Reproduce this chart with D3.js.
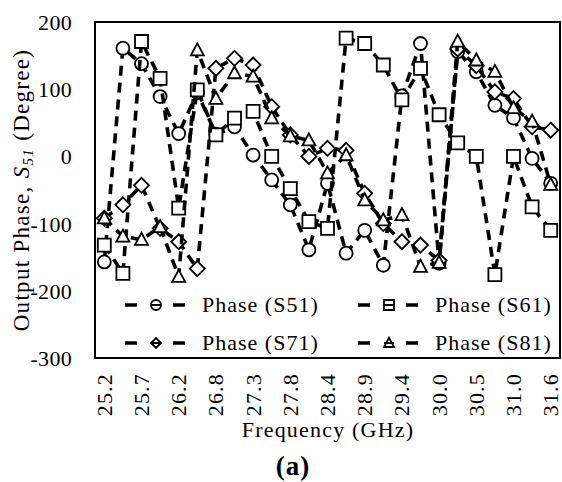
<!DOCTYPE html>
<html><head><meta charset="utf-8">
<script src="https://cdn.jsdelivr.net/npm/d3@7"></script>
<style>
html,body{margin:0;padding:0;background:#fff;}
svg text{font-family:"Liberation Serif","Times New Roman",serif;fill:#000;}
</style></head>
<body><svg id="c" width="562" height="482"></svg>
<script>
// ---- data ----
const categories = [25.2,25.47,25.73,26.0,26.27,26.53,26.8,27.07,27.33,27.6,27.87,28.13,28.4,28.67,28.93,29.2,29.44,29.73,30.0,30.27,30.53,30.8,31.07,31.33,31.6];
const tickLabels = ["25.2","25.7","26.2","26.8","27.3","27.8","28.4","28.9","29.4","30.0","30.5","31.0","31.6"];
const yTicks = [-300,-200,-100,0,100,200];
const s51 = [-157,161,138,89,34,95,33,44,2,-35,-72,-139,-40,-144,-110,-162,90,168,-159,156,126,76,57,-3,-40];
const s61 = [-132,-174,171,116,-77,99,32,57,67,0,-48,-97,-107,176,168,136,84,131,62,20,0,-176,0,-75,-110];
const s71 = [-92,-72,-43,-107,-127,-167,131,146,136,74,32,0,12,9,-55,-100,-127,-132,-155,160,135,96,86,44,39];
const s81 = [-92,-119,-124,-105,-179,158,86,124,119,57,30,24,-25,2,-65,-95,-87,-164,-158,171,143,126,72,52,-42];
const seriesNames = ["Phase (S51)","Phase (S61)","Phase (S71)","Phase (S81)"];
const seriesMarkers = ["circle","square","diamond","triangle"];
const seriesValues = [s51,s61,s71,s81];

// ---- layout ----
const FONT = '"Liberation Serif","Times New Roman",serif';
const L=95, R=560, T=22, B=358;
const svg = d3.select("#c");
const x = d3.scaleBand().domain(d3.range(categories.length)).range([L,R]).padding(0);
const cx = i => x(i) + x.bandwidth()/2;
const y = d3.scaleLinear().domain([-300,200]).range([B,T]);

// y axis
const yAxis = d3.axisLeft(y).tickValues(yTicks).tickSize(0).tickPadding(23).tickFormat(d => String(d));
const ga = svg.append("g").attr("transform",`translate(${L},0)`).call(yAxis);
ga.select(".domain").remove();
ga.attr("font-family",null);
ga.selectAll("text").style("font-family",FONT).style("font-size","22px").style("letter-spacing","0.3px").attr("dy","0.34em");

// x axis labels (every other category)
const xAxis = d3.axisBottom(x).tickValues(d3.range(0,categories.length,2)).tickSize(0)
  .tickFormat((d,i)=>tickLabels[i]);
const gx = svg.append("g").attr("transform",`translate(0,${B})`).call(xAxis);
gx.select(".domain").remove();
gx.selectAll("text").style("font-family",FONT).style("font-size","22px").style("letter-spacing","1.2px")
  .attr("transform","rotate(-90)").attr("text-anchor","end").attr("x",-15).attr("y",0).attr("dy","0.34em");

// axis titles
const yt = svg.append("text").attr("transform","translate(29,190) rotate(-90)").attr("text-anchor","middle")
  .style("font-size","23px").style("letter-spacing","1.3px");
yt.append("tspan").text("Output Phase, ");
yt.append("tspan").style("font-style","italic").text("S");
yt.append("tspan").style("font-style","italic").style("font-size","15px").attr("dy","4").text("51");
yt.append("tspan").attr("dy","-4").text(" (Degree)");
svg.append("text").attr("x",328).attr("y",437).attr("text-anchor","middle").style("font-size","22px")
  .style("letter-spacing","1.2px").text("Frequency (GHz)");
svg.append("text").attr("x",293).attr("y",475).attr("text-anchor","middle").style("font-size","27px")
  .style("font-weight","bold").style("letter-spacing","1px").text("(a)");

// marker shapes
function markerPath(type, s){
  const h=s/2;
  if(type==="circle") return d3.symbol(d3.symbolCircle, Math.PI*h*h)();
  if(type==="square") return `M${-h},${-h}H${h}V${h}H${-h}Z`;
  if(type==="diamond") return `M0,${-h}L${h},0L0,${h}L${-h},0Z`;
  return `M0,${-h*1.05}L${h},${h*0.8}L${-h},${h*0.8}Z`;
}

const line = d3.line().x((d,i)=>cx(i)).y(d=>y(d));
const plot = svg.append("g");
seriesValues.forEach((vals,k)=>{
  const g = plot.append("g");
  g.append("path").datum(vals).attr("d",line).attr("fill","none").attr("stroke","#000")
    .attr("stroke-width",3.6).attr("stroke-dasharray","10,7");
  g.selectAll("path.m").data(vals).join("path").attr("class","m")
    .attr("transform",(d,i)=>`translate(${cx(i)},${y(d)})`)
    .attr("d",markerPath(seriesMarkers[k], k===2?15:13))
    .attr("fill","#fff").attr("stroke","#000").attr("stroke-width",1.8);
});

// frame
svg.append("rect").attr("x",L).attr("y",T).attr("width",R-L).attr("height",B-T)
  .attr("fill","none").attr("stroke","#000").attr("stroke-width",2);

// legend
const legPos = [[125,305],[358,305],[125,343],[358,343]];
seriesNames.forEach((name,k)=>{
  const [lx,ly] = legPos[k];
  const g = svg.append("g").attr("transform",`translate(${lx},${ly})`);
  g.append("line").attr("x1",0).attr("x2",61).attr("y1",0).attr("y2",0)
    .attr("stroke","#000").attr("stroke-width",3.6).attr("stroke-dasharray","12,36");
  g.append("path").attr("transform","translate(31,0)").attr("d",markerPath(seriesMarkers[k],10))
    .attr("fill","#fff").attr("stroke","#000").attr("stroke-width",1.8);
  g.append("line").attr("x1",26).attr("x2",36).attr("y1",0).attr("y2",0).attr("stroke","#000").attr("stroke-width",2);
  g.append("text").attr("x",77).attr("y",7).style("font-size","22px").style("letter-spacing","1px").text(name);
});
</script></body></html>
